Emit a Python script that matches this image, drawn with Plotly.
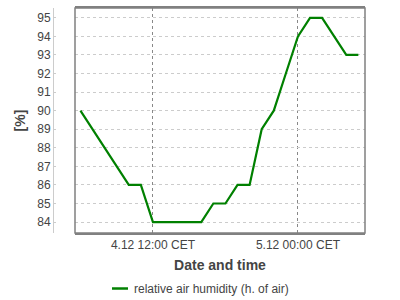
import plotly.graph_objects as go

times = ["2023-12-04 06:00", "2023-12-04 07:00", "2023-12-04 08:00", "2023-12-04 09:00",
         "2023-12-04 10:00", "2023-12-04 11:00", "2023-12-04 12:00", "2023-12-04 13:00",
         "2023-12-04 14:00", "2023-12-04 15:00", "2023-12-04 16:00", "2023-12-04 17:00",
         "2023-12-04 18:00", "2023-12-04 19:00", "2023-12-04 20:00", "2023-12-04 21:00",
         "2023-12-04 22:00", "2023-12-04 23:00", "2023-12-05 00:00", "2023-12-05 01:00",
         "2023-12-05 02:00", "2023-12-05 03:00", "2023-12-05 04:00", "2023-12-05 05:00"]
humidity = [90, 89, 88, 87, 86, 86, 84, 84, 84, 84, 84, 85, 85, 86, 86, 89, 90, 92, 94, 95, 95, 94, 93, 93]
y_ticks = list(range(84, 96))
x_tick_vals = ["2023-12-04 12:00", "2023-12-05 00:00"]
x_tick_text = ["4.12 12:00 CET", "5.12 00:00 CET"]
series_name = "relative air humidity (h. of air)"

W, H = 400, 300
ml, mr, mt, mb = 30, 35, 6, 67
pw = W - ml - mr
ph = H - mt - mb
plot_left, axis_x = 75, 53

def px_x(px):
    return (px - ml) / pw

def px_y(py):
    return (H - mb - py) / ph

fig = go.Figure()
fig.add_trace(go.Scatter(x=times, y=humidity, mode="lines", name=series_name,
                         line=dict(color="#008000", width=2.2), showlegend=False))

fig.update_layout(
    width=W, height=H,
    margin=dict(l=ml, r=mr, t=mt, b=mb),
    paper_bgcolor="white", plot_bgcolor="white",
    font=dict(family="Liberation Sans, Arial, sans-serif", size=12, color="#444"),
    showlegend=False,
    xaxis=dict(domain=[px_x(plot_left), 1],
               range=["2023-12-04 05:33", "2023-12-05 05:33"],
               tickvals=x_tick_vals, ticktext=x_tick_text,
               showgrid=True, gridcolor="#888", griddash="dot", gridwidth=1,
               showline=True, linecolor="#808080", linewidth=1.5, mirror=True,
               ticks="", zeroline=False,
               title=dict(text="<b>Date and time</b>", font=dict(size=14, color="#444"), standoff=9)),
    yaxis=dict(anchor="free", position=px_x(axis_x),
               range=[83.41, 95.53],
               tickvals=y_ticks,
               showgrid=True, gridcolor="#ccc", griddash="3px,3px", gridwidth=1,
               showline=True, linecolor="#ccc", linewidth=1,
               ticks="inside", ticklen=2, tickcolor="#ccc",
               zeroline=False,
               title=dict(text="<b>[%]</b>", font=dict(size=14, color="#444"), standoff=7)),
)
fig.add_shape(type="rect", xref="x domain", yref="y domain", x0=0, x1=1, y0=0, y1=1,
              line=dict(color="#808080", width=1.5), layer="above")
# legend: short line sample + label
fig.add_shape(type="line", xref="paper", yref="paper",
              x0=px_x(112), x1=px_x(128), y0=px_y(289), y1=px_y(289),
              line=dict(color="#008000", width=2.5))
fig.add_annotation(xref="paper", yref="paper", x=px_x(132), y=px_y(289),
                   xanchor="left", yanchor="middle", showarrow=False,
                   text=series_name, font=dict(size=12, color="#444"))

fig.write_html("out.html")
